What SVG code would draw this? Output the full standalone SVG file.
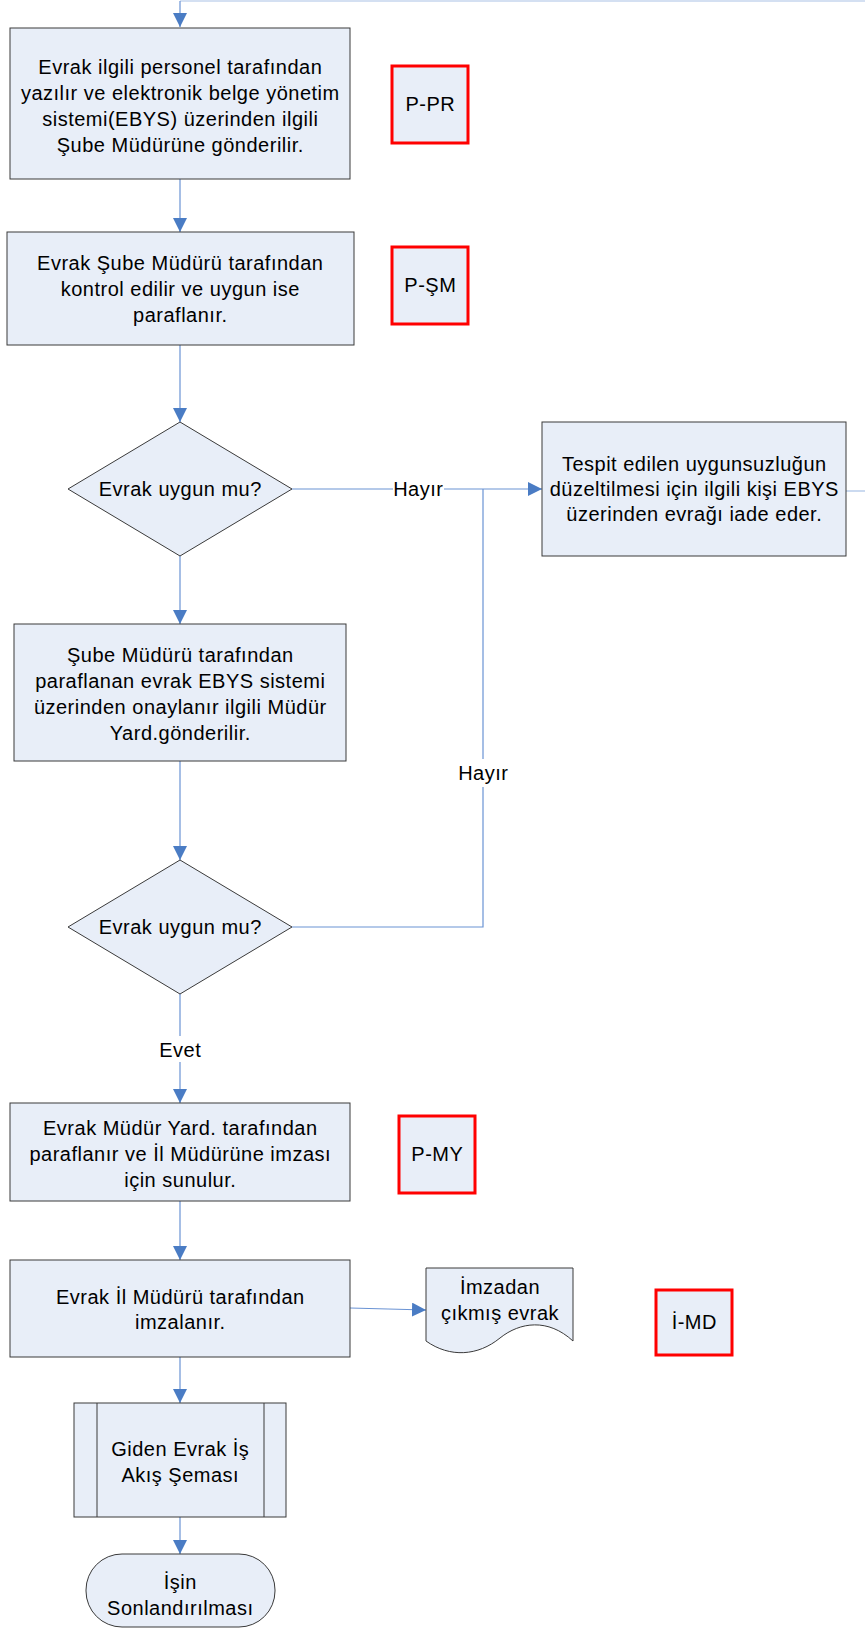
<svg xmlns="http://www.w3.org/2000/svg" width="865" height="1630" viewBox="0 0 865 1630">
<defs>
<marker id="arr" markerWidth="14" markerHeight="14" viewBox="0 0 14 14" refX="14" refY="7" orient="auto" markerUnits="userSpaceOnUse">
<path d="M0,0 L14,7 L0,14 Z" fill="#4a7cc4"/>
</marker>
<style>
text{font-family:"Liberation Sans",Arial,sans-serif;font-size:20px;letter-spacing:0.5px;fill:#000;text-anchor:middle}
.box{fill:#e8eef8;stroke:#3a3a3a;stroke-width:1}
.red{fill:#e8eef8;stroke:#ff0000;stroke-width:3}
.con{fill:none;stroke:#6a93d4;stroke-width:1.2}
.lite{fill:none;stroke:#a9c1e6;stroke-width:1.2}
.gap{fill:#fff}
</style>
</defs>
<rect width="865" height="1630" fill="#fff"/>
<g id="connectors">
<path class="lite" d="M865,1 H180"/>
<path class="con" d="M180,1 V27" marker-end="url(#arr)"/>
<path class="con" d="M180,179 V232" marker-end="url(#arr)"/>
<path class="con" d="M180,345 V422" marker-end="url(#arr)"/>
<path class="con" d="M292,489 H542" marker-end="url(#arr)"/>
<path class="lite" d="M846,491 H865"/>
<path class="con" d="M180,556 V624" marker-end="url(#arr)"/>
<path class="con" d="M180,761 V860" marker-end="url(#arr)"/>
<path class="con" d="M292,927 H483 V489"/>
<path class="con" d="M180,994 V1103" marker-end="url(#arr)"/>
<path class="con" d="M180,1201 V1260" marker-end="url(#arr)"/>
<path class="con" d="M350,1308 L426,1310" marker-end="url(#arr)"/>
<path class="con" d="M180,1357 V1403" marker-end="url(#arr)"/>
<path class="con" d="M180,1517 V1554" marker-end="url(#arr)"/>
<rect class="gap" x="393" y="478" width="51" height="22"/>
<text x="418.3" y="496">Hayır</text>
<rect class="gap" x="457" y="759" width="52" height="28"/>
<text x="483.3" y="780">Hayır</text>
<rect class="gap" x="158" y="1036" width="44" height="26"/>
<text x="180.3" y="1057">Evet</text>
</g>
<g id="n1">
<rect class="box" x="10" y="28" width="340" height="151"/>
<text x="180.3" y="74">Evrak ilgili personel tarafından</text>
<text x="180.3" y="100">yazılır ve elektronik belge yönetim</text>
<text x="180.3" y="126">sistemi(EBYS) üzerinden ilgili</text>
<text x="180.3" y="152">Şube Müdürüne gönderilir.</text>
</g>
<g id="pr">
<rect class="red" x="392" y="66" width="76" height="77"/>
<text x="430.3" y="111">P-PR</text>
</g>
<g id="n2">
<rect class="box" x="7" y="232" width="347" height="113"/>
<text x="180.3" y="270">Evrak Şube Müdürü tarafından</text>
<text x="180.3" y="296">kontrol edilir ve uygun ise</text>
<text x="180.3" y="322">paraflanır.</text>
</g>
<g id="psm">
<rect class="red" x="392" y="247" width="76" height="77"/>
<text x="430.3" y="292">P-ŞM</text>
</g>
<g id="d1">
<path class="box" d="M180,422 L292,489 L180,556 L68,489 Z"/>
<text x="180.3" y="496">Evrak uygun mu?</text>
</g>
<g id="n3">
<rect class="box" x="542" y="422" width="304" height="134"/>
<text x="694.3" y="471">Tespit edilen uygunsuzluğun</text>
<text x="694.3" y="496">düzeltilmesi için ilgili kişi EBYS</text>
<text x="694.3" y="521">üzerinden evrağı iade eder.</text>
</g>
<g id="n4">
<rect class="box" x="14" y="624" width="332" height="137"/>
<text x="180.3" y="662">Şube Müdürü tarafından</text>
<text x="180.3" y="688">paraflanan evrak EBYS sistemi</text>
<text x="180.3" y="714">üzerinden onaylanır ilgili Müdür</text>
<text x="180.3" y="740">Yard.gönderilir.</text>
</g>
<g id="d2">
<path class="box" d="M180,860 L292,927 L180,994 L68,927 Z"/>
<text x="180.3" y="934">Evrak uygun mu?</text>
</g>
<g id="n5">
<rect class="box" x="10" y="1103" width="340" height="98"/>
<text x="180.3" y="1135">Evrak Müdür Yard. tarafından</text>
<text x="180.3" y="1161">paraflanır ve İl Müdürüne imzası</text>
<text x="180.3" y="1187">için sunulur.</text>
</g>
<g id="pmy">
<rect class="red" x="399" y="1116" width="76" height="77"/>
<text x="437.3" y="1161">P-MY</text>
</g>
<g id="n6">
<rect class="box" x="10" y="1260" width="340" height="97"/>
<text x="180.3" y="1304">Evrak İl Müdürü tarafından</text>
<text x="180.3" y="1329">imzalanır.</text>
</g>
<g id="doc">
<path class="box" d="M426,1268 H573 V1341 C548,1318 520,1322 500,1338 C478,1356 450,1358 426,1341 Z"/>
<text x="500" y="1294">İmzadan</text>
<text x="500" y="1320">çıkmış evrak</text>
</g>
<g id="imd">
<rect class="red" x="656" y="1290" width="76" height="65"/>
<text x="694.3" y="1329">İ-MD</text>
</g>
<g id="sub">
<rect class="box" x="74" y="1403" width="212" height="114"/>
<line x1="97" y1="1403" x2="97" y2="1517" stroke="#3a3a3a" stroke-width="1"/>
<line x1="264" y1="1403" x2="264" y2="1517" stroke="#3a3a3a" stroke-width="1"/>
<text x="180.3" y="1456">Giden Evrak İş</text>
<text x="180.3" y="1482">Akış Şeması</text>
</g>
<g id="end">
<rect class="box" x="86" y="1554" width="189" height="73" rx="36" ry="36"/>
<text x="180.3" y="1589">İşin</text>
<text x="180.3" y="1615">Sonlandırılması</text>
</g>
</svg>
